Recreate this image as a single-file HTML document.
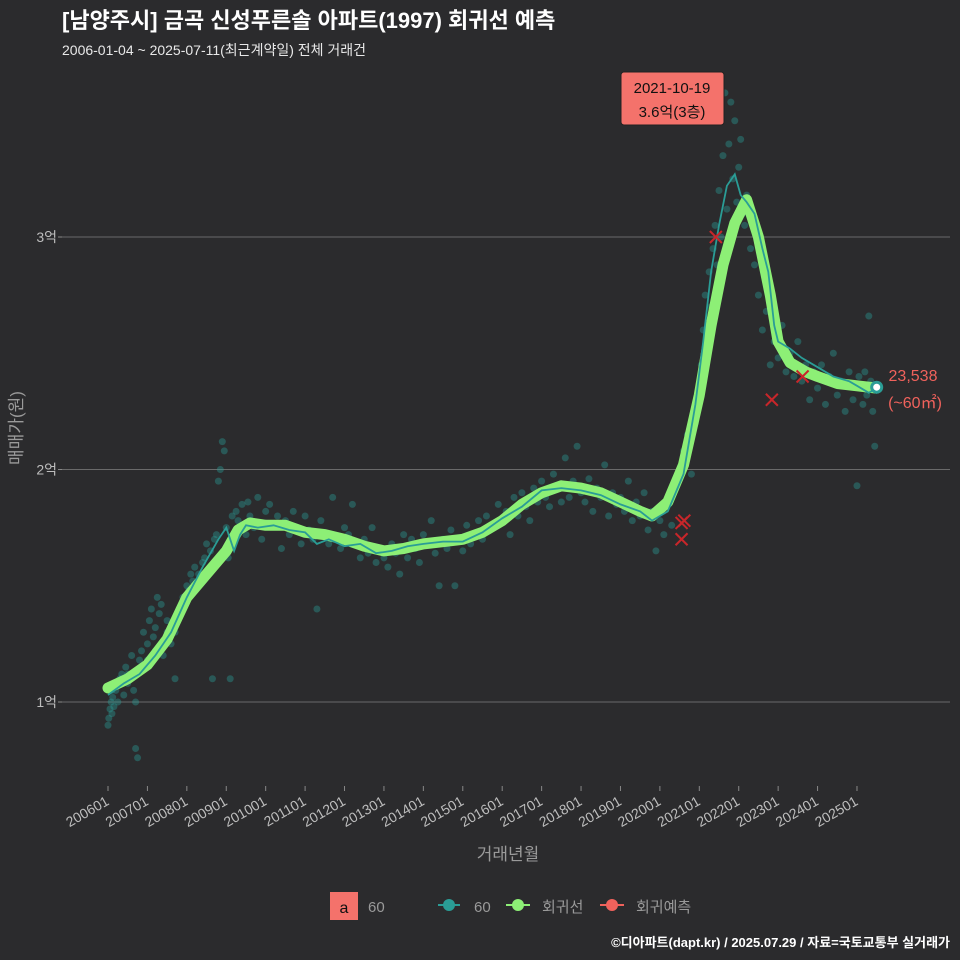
<!DOCTYPE html>
<html><head><meta charset="utf-8">
<style>
body{margin:0;background:#2b2b2d;}
svg{display:block;font-family:"Liberation Sans","Noto Sans CJK KR",sans-serif;}
</style></head>
<body>
<svg id="chart" width="960" height="960" viewBox="0 0 960 960" xmlns="http://www.w3.org/2000/svg">
<rect width="960" height="960" fill="#2b2b2d"/>
<text x="62" y="28" fill="#ffffff" font-size="22" font-weight="bold">[남양주시] 금곡 신성푸른솔 아파트(1997) 회귀선 예측</text>
<text x="62" y="55" fill="#e8e8e8" font-size="14">2006-01-04 ~ 2025-07-11(최근계약일) 전체 거래건</text>
<g id="grid"></g>
<g id="yticks"></g>
<g id="xticks"></g>
<g id="points"></g>
<g id="lines"></g>
<g id="preds"></g>
<text transform="translate(22,428) rotate(-90)" text-anchor="middle" fill="#9a9a9a" font-size="17">매매가(원)</text>
<text x="508" y="860" text-anchor="middle" fill="#9a9a9a" font-size="17">거래년월</text>
<g>
<rect x="621" y="72" width="103" height="53" rx="3" fill="#f4726b" stroke="#222" stroke-width="1"/>
<text x="672" y="93" text-anchor="middle" font-size="15" fill="#111">2021-10-19</text>
<text x="672" y="117" text-anchor="middle" font-size="15" fill="#111">3.6억(3층)</text>
</g>
<g>
<text x="913" y="381" text-anchor="middle" font-size="16" fill="#f0625c">23,538</text>
<text x="915" y="408" text-anchor="middle" font-size="16" fill="#f0625c">(~60㎡)</text>
</g>
<g>
<rect x="330" y="892" width="28" height="28" fill="#f4726b"/>
<text x="344" y="913" text-anchor="middle" font-size="16" fill="#111">a</text>
<text x="368" y="912" font-size="15" fill="#9a9a9a">60</text>
<g><line x1="438" y1="905" x2="460" y2="905" stroke="#2a9d96" stroke-width="2"/><circle cx="449" cy="905" r="6" fill="#2a9d96"/><text x="474" y="912" font-size="15" fill="#9a9a9a">60</text></g>
<g><line x1="506" y1="905" x2="530" y2="905" stroke="#8def76" stroke-width="2"/><circle cx="518" cy="905" r="6" fill="#8def76"/><text x="542" y="912" font-size="15" fill="#9a9a9a">회귀선</text></g>
<g><line x1="600" y1="905" x2="624" y2="905" stroke="#f0625c" stroke-width="2"/><circle cx="612" cy="905" r="6" fill="#f0625c"/><text x="636" y="912" font-size="15" fill="#9a9a9a">회귀예측</text></g>
</g>
<text x="950" y="947" text-anchor="end" font-size="13" font-weight="bold" fill="#ffffff">©디아파트(dapt.kr) / 2025.07.29 / 자료=국토교통부 실거래가</text>
</svg>
<script>
const yTicks=[1,2,3];
const yTickLabels=["1억","2억","3억"];
const xTickYears=[2006,2007,2008,2009,2010,2011,2012,2013,2014,2015,2016,2017,2018,2019,2020,2021,2022,2023,2024,2025];
const xTickLabels=["200601","200701","200801","200901","201001","201101","201201","201301","201401","201501","201601","201701","201801","201901","202001","202101","202201","202301","202401","202501"];
const regT=[2006.0,2006.5,2007.0,2007.5,2008.0,2008.5,2009.0,2009.3,2009.6,2010.0,2010.5,2011.0,2011.5,2012.0,2012.5,2013.0,2013.5,2014.0,2014.5,2015.0,2015.5,2016.0,2016.5,2017.0,2017.5,2018.0,2018.5,2019.0,2019.5,2019.8,2020.2,2020.6,2021.0,2021.3,2021.6,2021.9,2022.2,2022.5,2022.8,2023.0,2023.3,2023.7,2024.0,2024.5,2025.0,2025.5];
const regV=[1.06,1.10,1.16,1.27,1.45,1.55,1.65,1.74,1.77,1.76,1.76,1.73,1.72,1.70,1.67,1.65,1.66,1.68,1.69,1.70,1.73,1.78,1.85,1.90,1.93,1.92,1.90,1.86,1.82,1.80,1.86,2.02,2.32,2.62,2.88,3.06,3.16,3.00,2.75,2.55,2.46,2.42,2.40,2.37,2.36,2.35];
const maT=[2006.0,2006.4,2006.8,2007.2,2007.6,2008.0,2008.4,2008.8,2009.0,2009.2,2009.35,2009.5,2009.8,2010.2,2010.6,2011.0,2011.3,2011.6,2012.0,2012.4,2012.8,2013.2,2013.6,2014.0,2014.5,2015.0,2015.5,2016.0,2016.5,2017.0,2017.5,2018.0,2018.5,2019.0,2019.5,2019.8,2020.2,2020.6,2020.9,2021.1,2021.3,2021.5,2021.7,2021.9,2022.05,2022.2,2022.4,2022.6,2022.75,2022.9,2023.0,2023.3,2023.6,2024.0,2024.4,2024.8,2025.0,2025.3,2025.5];
const maV=[1.03,1.08,1.12,1.20,1.30,1.45,1.58,1.70,1.75,1.65,1.72,1.76,1.75,1.76,1.74,1.73,1.68,1.70,1.67,1.68,1.64,1.65,1.67,1.68,1.69,1.69,1.73,1.79,1.84,1.91,1.92,1.91,1.89,1.85,1.82,1.78,1.82,1.98,2.28,2.55,2.85,3.05,3.22,3.27,3.18,3.15,3.10,2.95,2.85,2.62,2.55,2.52,2.48,2.44,2.40,2.38,2.36,2.33,2.35];
const ptT=[
2006.0,2006.02,2006.05,2006.08,2006.1,2006.12,2006.15,2006.2,2006.25,2006.3,
2006.35,2006.4,2006.45,2006.5,2006.55,2006.6,2006.65,2006.7,2006.75,2006.8,
2006.85,2006.9,2006.95,2007.0,2007.05,2007.1,2007.15,2007.2,2007.25,2007.3,
2007.35,2007.4,2007.5,2007.6,2007.7,2007.8,2007.9,2008.0,2008.05,2008.1,
2008.15,2008.2,2008.3,2008.4,2008.45,2008.5,2008.6,2008.65,2008.7,2008.75,
2008.8,2008.85,2008.9,2008.95,2009.0,2009.05,2009.1,2009.15,2009.2,2009.25,
2009.3,2009.4,2009.5,2009.55,2009.6,2009.7,2009.8,2009.9,2010.0,2010.1,
2010.2,2010.3,2010.4,2010.5,2010.6,2010.7,2010.8,2010.9,2011.0,2011.1,
2011.2,2011.3,2011.4,2011.5,2011.6,2011.7,2011.8,2011.9,2012.0,2012.1,
2012.2,2012.3,2012.4,2012.5,2012.6,2012.7,2012.8,2012.9,2013.0,2013.1,
2013.2,2013.3,2013.4,2013.5,2013.6,2013.7,2013.8,2013.9,2014.0,2014.1,
2014.2,2014.3,2014.4,2014.5,2014.6,2014.7,2014.8,2014.9,2015.0,2015.1,
2015.2,2015.3,2015.4,2015.5,2015.6,2015.7,2015.8,2015.9,2016.0,2016.1,
2016.2,2016.3,2016.4,2016.5,2016.6,2016.7,2016.8,2016.9,2017.0,2017.1,
2017.2,2017.3,2017.4,2017.5,2017.6,2017.7,2017.8,2017.9,2018.0,2018.1,
2018.2,2018.3,2018.4,2018.5,2018.6,2018.7,2018.8,2018.9,2019.0,2019.1,
2019.2,2019.3,2019.4,2019.5,2019.6,2019.7,2019.8,2019.9,2020.0,2020.1,
2020.2,2020.3,2020.4,2020.5,2020.6,2020.7,2020.8,2020.9,2021.0,2021.05,
2021.1,2021.15,2021.2,2021.25,2021.3,2021.35,2021.4,2021.45,2021.5,2021.55,
2021.6,2021.65,2021.7,2021.75,2021.8,2021.85,2021.9,2021.95,2022.0,2022.05,
2022.1,2022.15,2022.2,2022.3,2022.4,2022.5,2022.6,2022.7,2022.8,2022.9,
2023.0,2023.1,2023.2,2023.3,2023.4,2023.5,2023.6,2023.7,2023.8,2023.9,
2024.0,2024.1,2024.2,2024.3,2024.4,2024.5,2024.6,2024.7,2024.8,2024.9,
2025.0,2025.05,2025.1,2025.15,2025.2,2025.25,2025.3,2025.35,2025.4,2025.45,
2006.1,2006.3,2006.5,2006.7,2007.0,2007.2,2007.5,2007.7,2009.4,2009.6];
const ptV=[
0.90,0.93,0.97,1.00,0.95,1.02,0.98,1.05,1.00,1.08,
1.12,1.03,1.15,1.08,1.10,1.20,1.05,0.80,0.76,1.18,
1.22,1.30,1.15,1.25,1.35,1.40,1.28,1.32,1.45,1.38,
1.42,1.20,1.30,1.25,1.10,1.40,1.45,1.50,1.48,1.55,
1.52,1.58,1.55,1.60,1.62,1.68,1.65,1.10,1.70,1.72,
1.95,2.00,2.12,2.08,1.75,1.62,1.10,1.80,1.70,1.82,
1.78,1.85,1.72,1.86,1.80,1.75,1.88,1.70,1.82,1.85,
1.76,1.80,1.66,1.78,1.72,1.82,1.75,1.68,1.80,1.74,
1.70,1.40,1.78,1.72,1.68,1.88,1.70,1.66,1.75,1.72,
1.85,1.68,1.62,1.70,1.64,1.75,1.60,1.66,1.62,1.58,
1.68,1.64,1.55,1.72,1.62,1.70,1.66,1.60,1.72,1.68,
1.78,1.64,1.50,1.70,1.66,1.74,1.50,1.70,1.65,1.76,
1.68,1.72,1.78,1.70,1.80,1.74,1.76,1.85,1.78,1.82,
1.72,1.88,1.80,1.90,1.84,1.78,1.92,1.86,1.95,1.88,
1.84,1.98,1.92,1.86,2.05,1.88,1.95,2.10,1.90,1.86,
1.96,1.82,1.92,1.88,2.02,1.80,1.90,1.85,1.88,1.82,
1.95,1.78,1.86,1.80,1.90,1.74,1.82,1.65,1.78,1.72,
1.85,1.76,1.92,2.00,2.08,2.15,1.98,2.20,2.30,2.45,
2.60,2.75,2.55,2.85,2.70,2.95,3.05,2.88,3.20,3.00,
3.35,3.62,3.12,3.40,3.58,3.25,3.50,3.15,3.30,3.42,
3.10,3.05,3.18,2.95,2.88,2.75,2.60,2.68,2.45,2.55,
2.48,2.62,2.42,2.50,2.40,2.55,2.38,2.45,2.30,2.42,
2.35,2.45,2.28,2.40,2.50,2.32,2.38,2.25,2.42,2.30,
1.93,2.40,2.35,2.28,2.42,2.32,2.66,2.38,2.25,2.10,
1.05,1.10,1.12,1.00,1.18,1.22,1.35,1.30,1.75,1.78];
const predT=[2020.55,2020.62,2020.55,2021.42,2022.84,2023.62];
const predV=[1.77,1.78,1.70,3.00,2.30,2.40];
const lastT=2025.5, lastV=2.354;

const X=t=>108+(t-2006)*39.42;
const Y=v=>702-(v-1)*232.5;
const NS="http://www.w3.org/2000/svg";
function mk(tag,parent,attrs){const e=document.createElementNS(NS,tag);for(const k in attrs)e.setAttribute(k,attrs[k]);document.getElementById(parent).appendChild(e);return e;}

yTicks.forEach((v,i)=>{
  const g=mk('line','grid',{x1:62,x2:950,y1:Y(v),y2:Y(v),stroke:'#6a6a6a','stroke-width':1});
  
  
  const t=mk('text','yticks',{x:57,y:Y(v)+5,'text-anchor':'end','font-size':14,fill:'#bdbdbd'});
  t.textContent=yTickLabels[i];
  
  
  const tk=mk('line','yticks',{x1:58,x2:62,y1:Y(v),y2:Y(v),stroke:'#888'});
  
  
});
xTickYears.forEach((yr,i)=>{
  const x=X(yr);
  const tk=mk('line','xticks',{x1:x,x2:x,y1:786,y2:791,stroke:'#888'});
  
  
  const t=mk('text','xticks',{x:x+2,y:804,'text-anchor':'end','font-size':14,fill:'#bdbdbd',transform:`rotate(-30 ${x+2} 804)`});
  t.textContent=xTickLabels[i];
  
  
});
ptT.forEach((t,i)=>{
  const c=mk('circle','points',{cx:X(t),cy:Y(ptV[i]),r:3.5,fill:'#2a9d96','fill-opacity':0.4});
  
  
});
const reg=mk('path','lines',{d:regT.map((t,i)=>(i?'L':'M')+X(t).toFixed(1)+','+Y(regV[i]).toFixed(1)).join(''),fill:'none',stroke:'#8def76','stroke-width':11,'stroke-linejoin':'round','stroke-linecap':'round'});


const ma=mk('path','lines',{d:maT.map((t,i)=>(i?'L':'M')+X(t).toFixed(1)+','+Y(maV[i]).toFixed(1)).join(''),fill:'none',stroke:'#2a9d96','stroke-width':1.8});


predT.forEach((t,i)=>{
  const x=X(t),y=Y(predV[i]);
  const p=mk('path','preds',{d:`M${x-6},${y-6}L${x+6},${y+6}M${x-6},${y+6}L${x+6},${y-6}`,stroke:'#c8262a','stroke-width':2});
  
  
});
const lp=mk('circle','lines',{cx:X(lastT),cy:Y(lastV),r:5,fill:'#ffffff',stroke:'#2a9d96','stroke-width':3});


</script>
</body></html>
